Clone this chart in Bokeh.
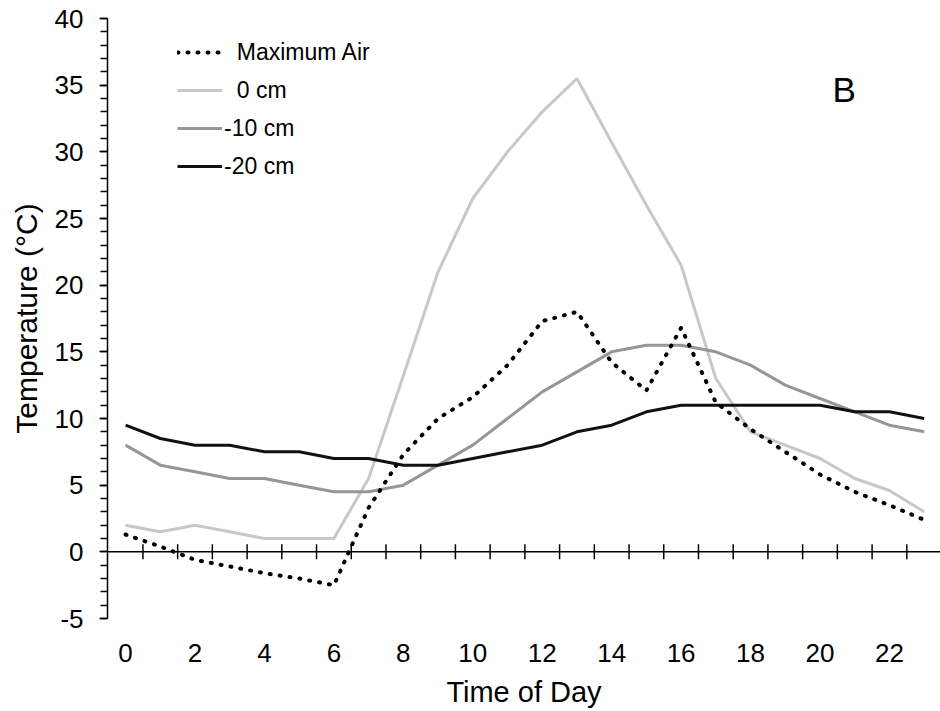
import numpy as np
from bokeh.plotting import figure
from bokeh.models import Range1d, FixedTicker, Span, Legend, LegendItem, Label
from bokeh.embed import file_html
from bokeh.resources import INLINE

# ---- data ----
hours = list(range(24))
max_air = [1.3, 0.4, -0.6, -1.1, -1.6, -2.0, -2.5, 3.3, 7.3, 10.0, 11.6, 14.0,
           17.3, 18.0, 14.2, 12.1, 16.8, 11.2, 9.2, 7.5, 5.8, 4.5, 3.5, 2.4]
soil_0 = [2.0, 1.5, 2.0, 1.5, 1.0, 1.0, 1.0, 5.5, 13.2, 21.0, 26.5, 30.0,
          33.0, 35.5, 30.7, 26.0, 21.5, 13.0, 9.0, 8.0, 7.0, 5.5, 4.6, 3.0]
soil_10 = [8.0, 6.5, 6.0, 5.5, 5.5, 5.0, 4.5, 4.5, 5.0, 6.5, 8.0, 10.0,
           12.0, 13.5, 15.0, 15.5, 15.5, 15.0, 14.0, 12.5, 11.5, 10.5, 9.5, 9.0]
soil_20 = [9.5, 8.5, 8.0, 8.0, 7.5, 7.5, 7.0, 7.0, 6.5, 6.5, 7.0, 7.5,
           8.0, 9.0, 9.5, 10.5, 11.0, 11.0, 11.0, 11.0, 11.0, 10.5, 10.5, 10.0]
series_labels = ["\u00a0\u00a0Maximum Air", "\u00a0\u00a00 cm", "-10 cm", "-20 cm"]
x_tick_labels = [0, 2, 4, 6, 8, 10, 12, 14, 16, 18, 20, 22]
y_tick_labels = [-5, 0, 5, 10, 15, 20, 25, 30, 35, 40]
y_minor = list(range(-5, 41))
boundary_ticks = [h + 0.5 for h in hours[:-1]]

FONT = "Liberation Sans"

p = figure(width=940, height=711, output_backend="svg", toolbar_location=None,
           x_range=Range1d(-0.52, 23.47), y_range=Range1d(-5, 40),
           min_border_left=107, min_border_right=0, min_border_top=18,
           min_border_bottom=93)
p.xgrid.visible = False
p.ygrid.visible = False
p.outline_line_color = None
p.background_fill_color = "white"

# bottom axis: labels and title only
xa = p.xaxis[0]
xa.ticker = FixedTicker(ticks=x_tick_labels, minor_ticks=[])
xa.axis_line_color = None
xa.major_tick_line_color = None
xa.minor_tick_line_color = None
xa.major_tick_in = 0
xa.major_tick_out = 0
xa.major_label_standoff = 25
xa.major_label_text_font = FONT
xa.major_label_text_font_size = "26px"
xa.major_label_text_color = "black"
xa.axis_label = "Time of Day"
xa.axis_label_text_font = FONT
xa.axis_label_text_font_size = "29px"
xa.axis_label_text_font_style = "normal"
xa.axis_label_text_color = "black"
xa.axis_label_standoff = 11

# left axis
ya = p.yaxis[0]
ya.ticker = FixedTicker(ticks=y_tick_labels, minor_ticks=y_minor)
ya.major_label_overrides = {v: str(v) for v in y_tick_labels}
ya.axis_line_color = "black"
ya.axis_line_width = 1.5
ya.major_tick_line_color = "black"
ya.major_tick_line_width = 1.5
ya.minor_tick_line_color = "black"
ya.minor_tick_line_width = 1.5
ya.major_tick_in = 0
ya.major_tick_out = 8
ya.minor_tick_in = 0
ya.minor_tick_out = 7
ya.major_label_standoff = 16
ya.major_label_text_font = FONT
ya.major_label_text_font_size = "26px"
ya.major_label_text_color = "black"
ya.axis_label = "Temperature (\u00b0C)"
ya.axis_label_text_font = FONT
ya.axis_label_text_font_size = "30px"
ya.axis_label_text_font_style = "normal"
ya.axis_label_text_color = "black"
ya.axis_label_standoff = 9

# zero line with crossing ticks at hour boundaries
p.add_layout(Span(location=0, dimension="width", line_color="black", line_width=1.5))
p.scatter(x=boundary_ticks, y=[0] * len(boundary_ticks), marker="dash", size=15,
          angle=np.pi / 2, line_color="black", line_width=1.5)

r0 = p.line(hours, soil_0, line_color="#c8c8c8", line_width=3)
r10 = p.line(hours, soil_10, line_color="#969696", line_width=3)
r20 = p.line(hours, soil_20, line_color="#111111", line_width=3)
rmax = p.line(hours, max_air, line_color="black", line_width=4,
              line_dash="1 9", line_cap="round")

legend = Legend(items=[LegendItem(label=series_labels[0], renderers=[rmax]),
                       LegendItem(label=series_labels[1], renderers=[r0]),
                       LegendItem(label=series_labels[2], renderers=[r10]),
                       LegendItem(label=series_labels[3], renderers=[r20])],
                location=(70, 433), padding=0, spacing=0, margin=0,
                glyph_width=45, glyph_height=38, label_height=38,
                label_standoff=2, border_line_color=None,
                background_fill_alpha=0,
                label_text_font=FONT, label_text_font_size="23px",
                label_text_color="black")
p.add_layout(legend)

p.add_layout(Label(x=20.36, y=34.66, text="B", text_font=FONT,
                   text_font_size="35px", text_color="black",
                   text_align="left", text_baseline="middle"))

open("out.html", "w").write(file_html(p, INLINE))
